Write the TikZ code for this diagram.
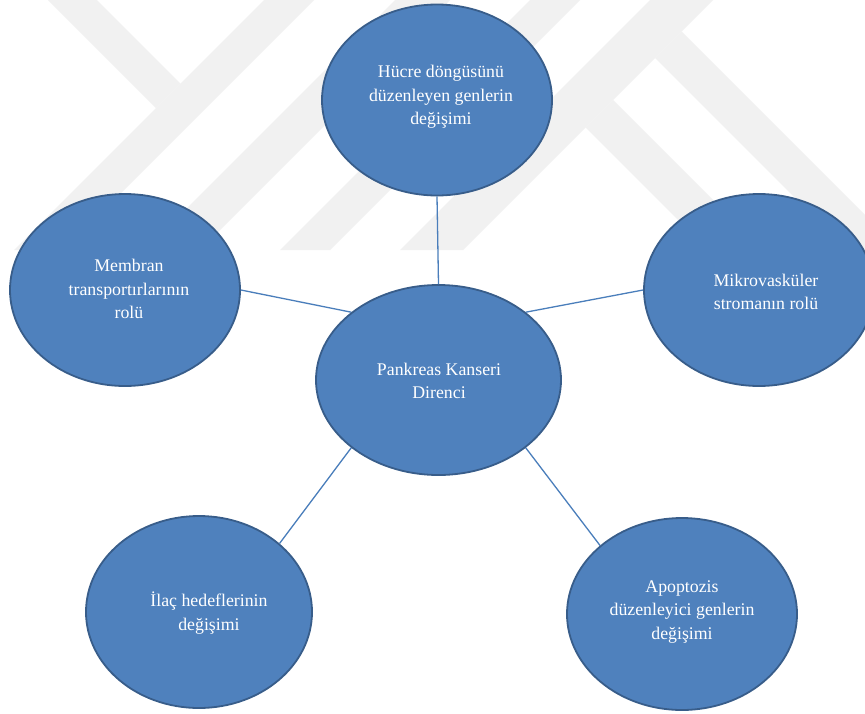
\documentclass[tikz,border=0pt]{standalone}
\usepackage{fontspec}
\setmainfont{Liberation Serif}
\usetikzlibrary{shapes.geometric}
\definecolor{fillblue}{HTML}{4F81BD}
\definecolor{edgeblue}{HTML}{385D8A}
\definecolor{linkblue}{HTML}{4A7EBB}
\definecolor{wmgrey}{HTML}{F1F1F1}
\begin{document}
\begin{tikzpicture}[x=1pt,y=-1pt,
  bubble/.style={ellipse, draw=edgeblue, line width=1.8pt, fill=fillblue, inner sep=0pt,
    minimum width=230pt, minimum height=192pt},
  bubbletext/.style={text=white, inner sep=0pt, align=center,
    font=\fontsize{17.8}{23.5}\selectfont},
  link/.style={draw=linkblue, line width=1.3pt},
  wm/.style={fill=wmgrey, draw=none}]
\clip (0,0) rectangle (865,713);
\fill[white] (0,0) rectangle (865,713);
% faint watermark
\fill[wm] (48,0) -- (97,0) -- (180.5,83.5) -- (156,108) -- cycle;
\fill[wm] (264,0) -- (314,0) -- (64,250) -- (14,250) -- cycle;
\fill[wm] (395,0) -- (450,0) -- (200,250) -- (145,250) -- cycle;
\fill[wm] (530,0) -- (580,0) -- (330,250) -- (280,250) -- cycle;
\fill[wm] (650,0) -- (713,0) -- (463,250) -- (400,250) -- cycle;
\fill[wm] (681.5,31.5) -- (900,250) -- (847,250) -- (655,58) -- cycle;
\fill[wm] (613,100) -- (763,250) -- (708,250) -- (585.5,127.5) -- cycle;
% bubbles
\node[bubble, minimum height=191pt] (hucre) at (437,100) {};
\node[bubble] (membran) at (125,290) {};
\node[bubble] (mikro) at (759,290) {};
\node[bubble, minimum width=245pt, minimum height=190pt] (merkez) at (438.5,380) {};
\node[bubble, minimum width=226pt] (ilac) at (199,612) {};
\node[bubble] (apop) at (682,614) {};
% texts
\node[bubbletext] (hucreT) at (441,97) {Hücre döngüsünü\\düzenleyen genlerin\\değişimi};
\node[bubbletext] (membranT) at (129,289) {Membran\\transportırlarının\\rolü};
\node[bubbletext] (mikroT) at (766,292) {Mikrovasküler\\stromanın rolü};
\node[bubbletext] (merkezT) at (439,381) {Pankreas Kanseri\\Direnci};
\node[bubbletext] (ilacT) at (209,613) {İlaç hedeflerinin\\değişimi};
\node[bubbletext] (apopT) at (682,612) {Apoptozis\\düzenleyici genlerin\\değişimi};
% connectors
\draw[link] (hucre.south) -- (merkez.north);
\draw[link] (membran.east) -- (merkez.north west);
\draw[link] (mikro.west) -- (merkez.north east);
\draw[link] (merkez.south west) -- (ilac.north east);
\draw[link] (merkez.south east) -- (apop.north west);
\end{tikzpicture}
\end{document}
